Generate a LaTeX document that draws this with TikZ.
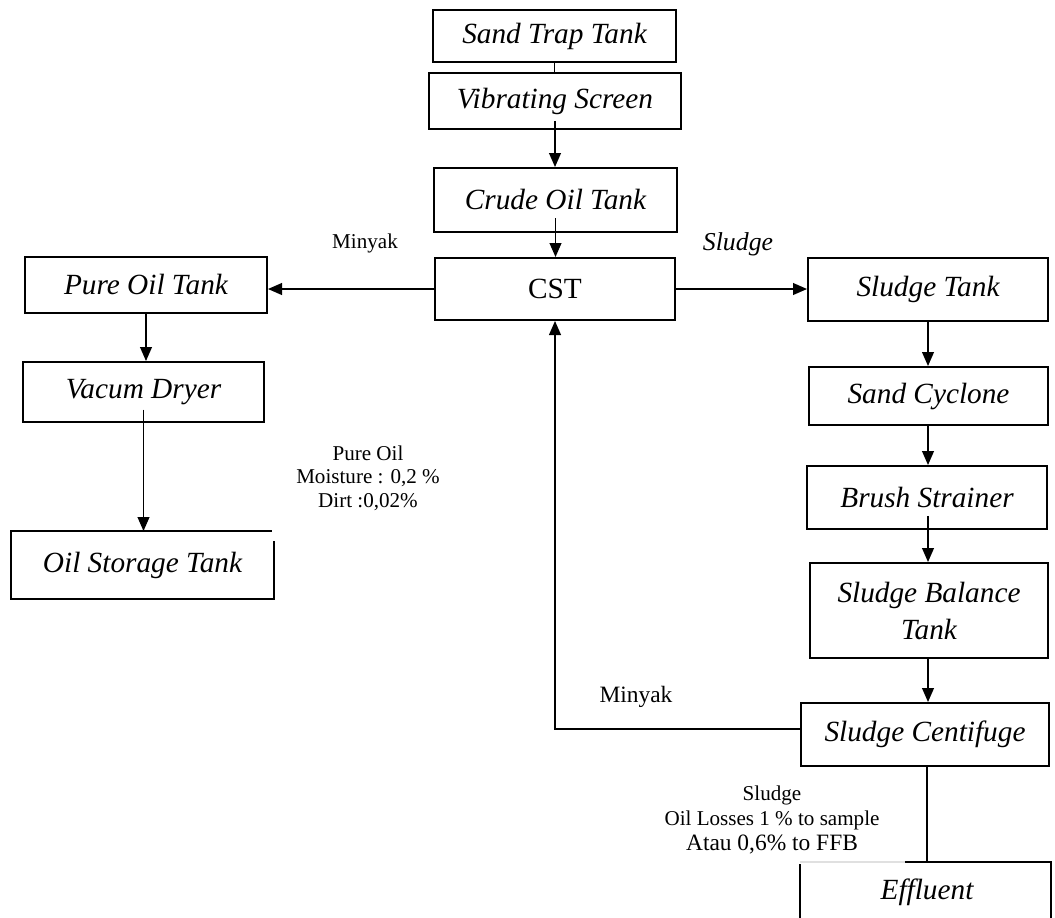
\documentclass[tikz,border=0pt]{standalone}
\usepackage{fontspec}
\setmainfont{Liberation Serif}
\usetikzlibrary{arrows.meta}
\tikzset{>={Triangle[width=5pt,length=6pt]}}
\tikzset{tank/.style={draw, line width=0.8pt, inner sep=0pt, align=center, font=\fontsize{12.5}{15.8}\selectfont\itshape},
  flow/.style={line width=0.8pt, ->},
  note/.style={align=center, font=\fontsize{9}{10}\selectfont}}

\begin{document}
\begin{tikzpicture}[x=0.015cm, y=-0.015cm]
\useasboundingbox (0,0) rectangle (1055,917);

% middle column
\node[tank, minimum width=3.645cm, minimum height=0.78cm] (trap) at (554.5,36) {Sand Trap Tank};
\node[tank, minimum width=3.78cm, minimum height=0.84cm] (vib) at (555,101) {Vibrating Screen};
\node[tank, minimum width=3.645cm, minimum height=0.96cm] (crude) at (555.5,200) {Crude Oil Tank};
\node[tank, font=\fontsize{12.5}{15}\selectfont, minimum width=3.6cm, minimum height=0.93cm] (cst) at (555,289) {CST};

% left column
\node[tank, minimum width=3.63cm, minimum height=0.84cm] (pure) at (146,285) {Pure Oil Tank};
\node[tank, minimum width=3.615cm, minimum height=0.9cm] (vacum) at (143.5,392) {Vacum Dryer};
\node[tank, draw=none, minimum width=3.915cm, minimum height=0.99cm] (storage) at (142.5,565) {Oil Storage Tank};
\draw[line width=0.8pt] ([xshift=-0.03cm]storage.north east) -- (storage.north west) -- (storage.south west) -- (storage.south east) -- ([yshift=-0.15cm]storage.north east);

% right column
\node[tank, minimum width=3.6cm, minimum height=0.945cm] (stank) at (928,289.5) {Sludge Tank};
\node[tank, minimum width=3.585cm, minimum height=0.87cm] (cyclone) at (928.5,396) {Sand Cyclone};
\node[tank, minimum width=3.6cm, minimum height=0.945cm] (brush) at (927,497.5) {Brush Strainer};
\node[tank, minimum width=3.57cm, minimum height=1.425cm] (balance) at (929,610.5) {Sludge Balance\\Tank};
\node[tank, minimum width=3.72cm, minimum height=0.945cm] (centi) at (925,734.5) {Sludge Centifuge};
\node[tank, draw=none] (effl) at (927,892) {Effluent};
\coordinate (efftop) at (927,862);
\draw[black!12, line width=0.6pt] (800,862) -- (905,862);
\draw[line width=0.8pt] (800,864) -- (800,925);
\draw[line width=0.8pt] (905,862) -- (1051,862) -- (1051,925);

% labels
\node[note] (minyak1) at (365,243) {Minyak};
\node[note, font=\fontsize{11}{13}\selectfont\itshape] (sludge1) at (738,244) {Sludge};
\node[note] (pureoil) at (368,478) {Pure Oil\\Moisture : 0,2 \%\\Dirt :0,02\%};
\node[note, font=\fontsize{10}{12}\selectfont] (minyak2) at (636,697) {Minyak};
\node[note, font=\fontsize{9}{10.7}\selectfont] (losses) at (772,820) {Sludge\\Oil Losses 1 \% to sample\\{\fontsize{10}{10.7}\selectfont Atau 0,6\% to FFB}};

% connectors
\draw[line width=0.8pt] (trap) -- (trap |- vib.north);
\draw[flow] ([yshift=0.135cm]vib.south) -- (vib.south |- crude.north);
\draw[flow] ([yshift=0.22cm]crude.south) -- (crude.south |- cst.north);
\draw[flow] (cst.west) -- (cst.west -| pure.east);
\draw[flow] (cst.east) -- (cst.east -| stank.west);
\draw[flow] (pure.south) -- (pure.south |- vacum.north);
\draw[flow] ([yshift=0.2cm]vacum.south) -- (vacum.south |- storage.north);
\draw[flow] (stank.south) -- (stank.south |- cyclone.north);
\draw[flow] (stank.south |- cyclone.south) -- (stank.south |- brush.north);
\draw[flow] ([yshift=0.21cm]stank.south |- brush.south) -- (stank.south |- balance.north);
\draw[flow] (stank.south |- balance.south) -- (stank.south |- centi.north);
\draw[flow] ([yshift=0.08cm]centi.west) -| (cst.south);
\draw[line width=0.8pt] (efftop |- centi.south) -- (efftop);

\end{tikzpicture}
\end{document}
